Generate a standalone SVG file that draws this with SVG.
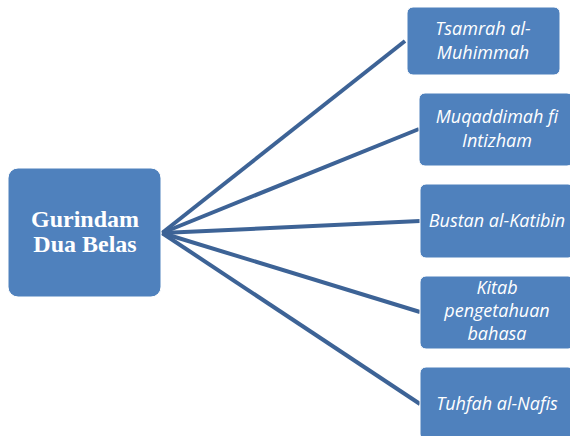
<svg xmlns="http://www.w3.org/2000/svg" width="570" height="436" viewBox="0 0 570 436">
<style>
.box{fill:#4f81bd;stroke:#ffffff;stroke-width:1}
.leaf{font-family:"Open Sans","Noto Sans",sans-serif;font-style:italic;font-size:18px;fill:#ffffff;text-anchor:middle}
.main{font-family:"Liberation Serif",serif;font-weight:bold;font-size:24px;fill:#ffffff;text-anchor:middle}
.conn{stroke:#3d6396;stroke-width:4;fill:none;stroke-linecap:butt}
</style>
<rect width="570" height="436" fill="#ffffff"/>
<g id="connectors">
<line class="conn" x1="162" y1="233" x2="405" y2="41"/>
<line class="conn" x1="162" y1="233" x2="419" y2="129"/>
<line class="conn" x1="162" y1="233" x2="420" y2="221"/>
<line class="conn" x1="162" y1="233" x2="420" y2="312"/>
<line class="conn" x1="162" y1="233" x2="420" y2="404"/>
</g>
<g id="main">
<rect class="box" x="8" y="168" width="153" height="129" rx="10"/>
<text class="main" x="85" y="227">Gurindam</text>
<text class="main" x="85" y="252">Dua Belas</text>
</g>
<g id="n1">
<rect class="box" x="407" y="7" width="153" height="68" rx="6"/>
<text class="leaf" x="483" y="35">Tsamrah al-</text>
<text class="leaf" x="483" y="59">Muhimmah</text>
</g>
<g id="n2">
<rect class="box" x="419" y="93" width="154" height="73" rx="6"/>
<text class="leaf" x="497" y="123">Muqaddimah fi</text>
<text class="leaf" x="497" y="147">Intizham</text>
</g>
<g id="n3">
<rect class="box" x="420" y="184" width="154" height="74" rx="6"/>
<text class="leaf" x="497" y="227">Bustan al-Katibin</text>
</g>
<g id="n4">
<rect class="box" x="420" y="276" width="154" height="73" rx="6"/>
<text class="leaf" x="497" y="294">Kitab</text>
<text class="leaf" x="497" y="317">pengetahuan</text>
<text class="leaf" x="497" y="340">bahasa</text>
</g>
<g id="n5">
<rect class="box" x="420" y="367" width="154" height="73" rx="6"/>
<text class="leaf" x="497" y="410">Tuhfah al-Nafis</text>
</g>
</svg>
